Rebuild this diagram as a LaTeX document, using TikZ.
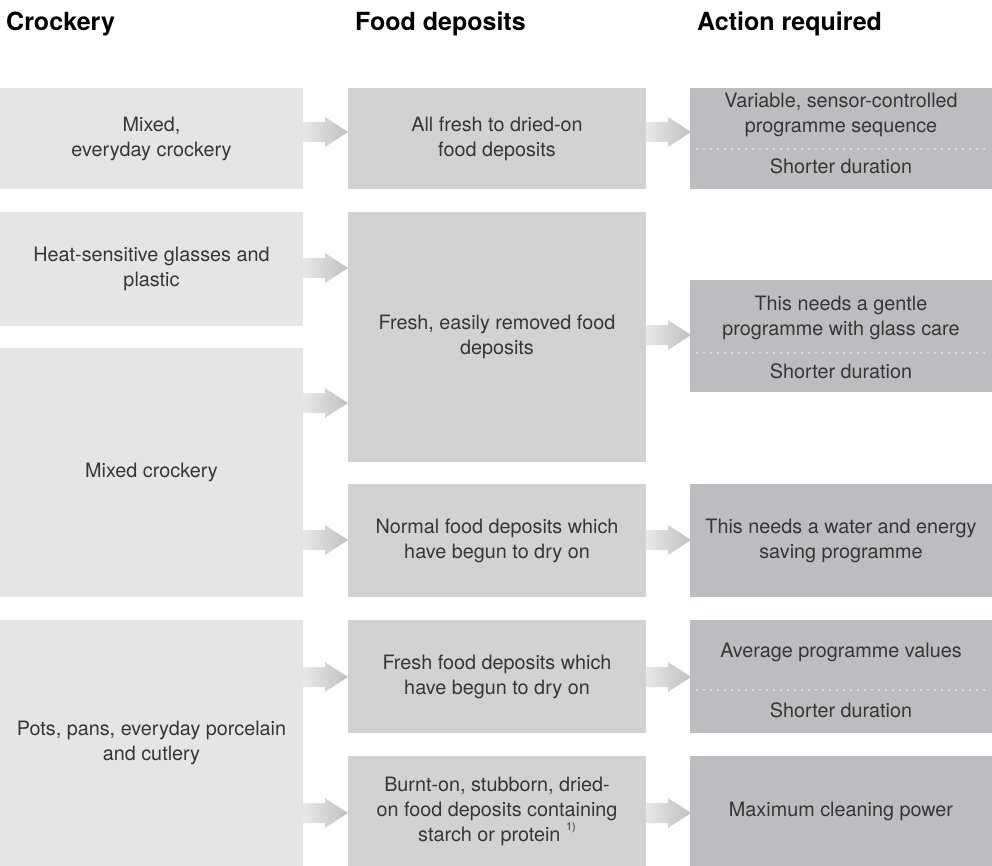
\documentclass[tikz,border=0pt]{standalone}
\usepackage{fontspec}
\setmainfont{TeX Gyre Heros}
\usetikzlibrary{calc}
\definecolor{cA}{HTML}{E4E5E6}
\definecolor{cB}{HTML}{D1D2D4}
\definecolor{cC}{HTML}{BCBDC0}
\definecolor{txt}{HTML}{363636}
\definecolor{arrL}{HTML}{E8E8E8}
\definecolor{arrR}{HTML}{C0C0C0}
\begin{document}
\begin{tikzpicture}[x=1pt,y=-1pt,
  box/.style={inner sep=0pt, outer sep=0pt, anchor=north west, font=\fontsize{19.8}{25}\selectfont, text=txt, align=center},
  boxA/.style={box, fill=cA, minimum width=303pt},
  boxB/.style={box, fill=cB, minimum width=298pt},
  boxC/.style={box, fill=cC, minimum width=302pt},
  lbl/.style={inner sep=0pt, font=\fontsize{19.8}{25}\selectfont, text=txt, align=center},
  head/.style={inner sep=0pt, anchor=base west, font=\fontsize{25}{28}\selectfont\bfseries, text=black},
  dots/.style={white, line width=1.7pt, dash pattern=on 0pt off 7pt, line cap=round},
  garrow/.pic={\shade[left color=arrL,right color=arrR] (0,-10)--(22,-10)--(22,-15)--(45,0)--(22,15)--(22,10)--(0,10)--cycle;}
]
\useasboundingbox (0,0) rectangle (992,866);

% headings
\node[head] (h1) at (6,31) {Crockery};
\node[head] (h2) at (355,31) {Food deposits};
\node[head] (h3) at (697,31) {Action required};

% column 1
\node[boxA, minimum height=101pt] (m1) at (0,88) {Mixed,\\everyday crockery};
\node[boxA, minimum height=114pt] (m2) at (0,212) {Heat-sensitive glasses and\\plastic};
\node[boxA, minimum height=249pt] (m3) at (0,348) {Mixed crockery};
\node[boxA, minimum height=246pt] (m4) at (0,620) {Pots, pans, everyday porcelain\\and cutlery};

% column 2
\node[boxB, minimum height=101pt] (f1) at (348,88) {All fresh to dried-on\\food deposits};
\node[boxB, minimum height=250pt] (f2) at (348,212) {Fresh, easily removed food\\deposits};
\node[boxB, minimum height=113pt] (f3) at (348,484) {Normal food deposits which\\have begun to dry on};
\node[boxB, minimum height=113pt] (f4) at (348,620) {Fresh food deposits which\\have begun to dry on};
\node[boxB, minimum height=110pt] (f5) at (348,756) {Burnt-on, stubborn, dried-\\on food deposits containing\\starch or protein \raisebox{0.55em}{\fontsize{11}{11}\selectfont 1)}};

% arrows
\pic at (m1.east |- 0,132) {garrow};
\pic at (f1.east |- 0,132) {garrow};
\pic at (m2.east |- 0,268) {garrow};
\pic at (m3.east |- 0,403) {garrow};
\pic at (f2.east |- 0,335) {garrow};
\pic at (m3.east |- 0,540) {garrow};
\pic at (f3.east |- 0,540) {garrow};
\pic at (m4.east |- 0,677) {garrow};
\pic at (f4.east |- 0,677) {garrow};
\pic at (m4.east |- 0,813) {garrow};
\pic at (f5.east |- 0,813) {garrow};

% column 3
\node[boxC, minimum height=101pt] (a1) at (690,88) {};
\node[lbl] (a1t) at (841,115) {Variable, sensor-controlled\\programme sequence};
\draw[dots] (697,149) -- (986,149);
\node[lbl] (a1s) at (841,166) {Shorter duration};

\node[boxC, minimum height=112pt] (a2) at (690,280) {};
\node[lbl] (a2t) at (841,318) {This needs a gentle\\programme with glass care};
\draw[dots] (697,353) -- (986,353);
\node[lbl] (a2s) at (841,371) {Shorter duration};

\node[boxC, minimum height=113pt] (a3) at (690,484) {This needs a water and energy\\saving programme};

\node[boxC, minimum height=113pt] (a4) at (690,620) {};
\node[lbl] (a4t) at (841,652) {Average programme values};
\draw[dots] (697,690) -- (986,690);
\node[lbl] (a4s) at (841,710) {Shorter duration};

\node[boxC, minimum height=110pt] (a5) at (690,756) {Maximum cleaning power};
\end{tikzpicture}
\end{document}
